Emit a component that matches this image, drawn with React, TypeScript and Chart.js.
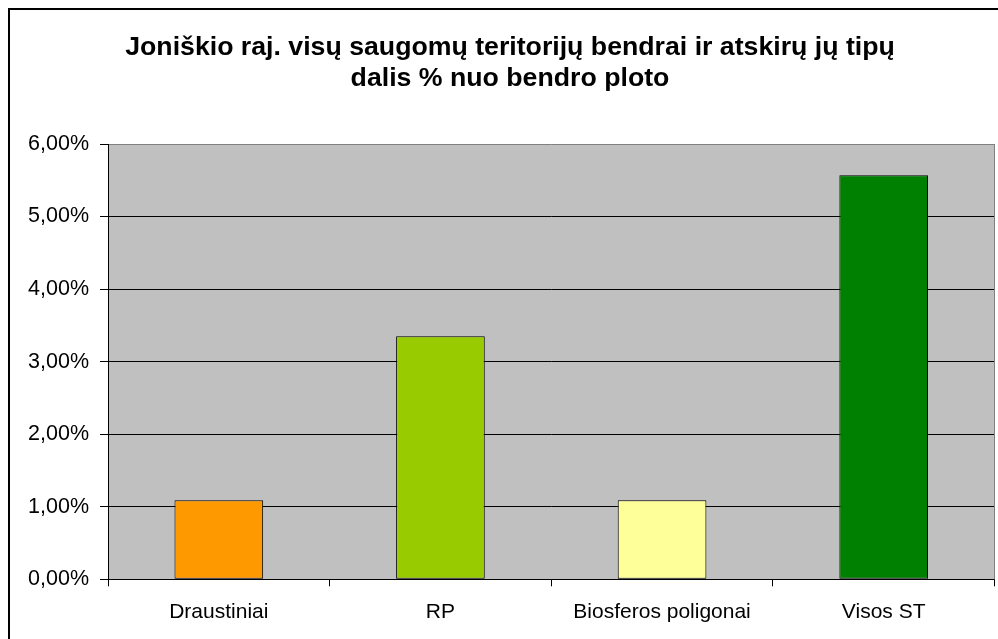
import React, { useEffect, useRef } from "react";
import { Chart, registerables } from "chart.js";

Chart.register(...registerables);

const titleLines = [
  "Joniškio raj. visų saugomų teritorijų bendrai ir atskirų jų tipų",
  "dalis % nuo bendro ploto",
];
const categories = ["Draustiniai", "RP", "Biosferos poligonai", "Visos ST"];
const values = [1.09, 3.35, 1.09, 5.57];
const barColors = ["#FF9900", "#99CC00", "#FFFF99", "#008000"];
const yMin = 0;
const yMax = 6;
const yStep = 1;

const CANVAS_W = 1000;
const CANVAS_H = 636;

const plotBg = {
  id: "plotBg",
  beforeDraw(chart: any) {
    const { ctx, chartArea } = chart;
    const { left, top, right, bottom } = chartArea;
    ctx.save();
    ctx.fillStyle = "#C0C0C0";
    ctx.fillRect(left, top, right - left, bottom - top);
    ctx.restore();
  },
  beforeDatasetsDraw(chart: any) {
    const { ctx, chartArea } = chart;
    const { top, right, bottom } = chartArea;
    ctx.save();
    ctx.strokeStyle = "#808080";
    ctx.lineWidth = 1;
    ctx.beginPath();
    const x = Math.round(right) - 0.5;
    ctx.moveTo(x, top);
    ctx.lineTo(x, bottom);
    ctx.stroke();
    ctx.restore();
  },
};

export default function App() {
  const ref = useRef<HTMLCanvasElement | null>(null);

  useEffect(() => {
    if (!ref.current) return;
    const chart = new Chart(ref.current, {
      type: "bar",
      data: {
        labels: categories,
        datasets: [
          {
            data: values,
            backgroundColor: barColors,
            borderColor: "#000000",
            borderWidth: 1,
            borderSkipped: false,
            barPercentage: 0.4,
            categoryPercentage: 1,
          },
        ],
      },
      options: {
        responsive: false,
        animation: false,
        devicePixelRatio: 1,
        layout: { padding: { left: 15.5, right: 15.5, top: 0, bottom: 0 } },
        plugins: {
          legend: { display: false },
          tooltip: { enabled: false },
          title: {
            display: true,
            text: titleLines,
            color: "#000000",
            font: { family: "'Liberation Sans', Arial, sans-serif", size: 26.7, weight: "bold", lineHeight: 31 / 26.7 },
            padding: { top: 22.5, bottom: 49.5 },
          },
        },
        scales: {
          x: {
            offset: true,
            grid: {
              offset: true,
              drawOnChartArea: false,
              drawTicks: true,
              tickLength: 7,
              color: "#000000",
            },
            border: { display: true, color: "#000000", width: 1 },
            ticks: {
              color: "#000000",
              padding: 13,
              font: { family: "'Liberation Sans', Arial, sans-serif", size: 21 },
            },
            afterFit(scale: any) {
              scale.height = 66.7;
            },
          },
          y: {
            min: yMin,
            max: yMax,
            grid: {
              color: (ctx: any) => (ctx.tick && ctx.tick.value === yMax ? "#808080" : "#000000"),
              tickColor: "#000000",
              tickLength: 8,
              lineWidth: 1,
            },
            border: { display: true, color: "#000000", width: 1 },
            ticks: {
              stepSize: yStep,
              color: "#000000",
              padding: 11,
              font: { family: "'Liberation Sans', Arial, sans-serif", size: 21.5 },
              callback: (v: any) => Number(v).toFixed(2).replace(".", ",") + "%",
            },
            afterFit(scale: any) {
              scale.width = 82.5;
            },
          },
        },
      },
      plugins: [plotBg],
    });
    return () => chart.destroy();
  }, []);

  return (
    <div style={{ position: "fixed", left: 0, top: 0, width: 998, height: 639, overflow: "hidden", background: "#ffffff" }}>
      <div
        style={{
          position: "absolute",
          left: 8,
          top: 8,
          width: CANVAS_W + 4,
          height: CANVAS_H + 4,
          border: "2px solid #000000",
          boxSizing: "border-box",
          background: "#ffffff",
        }}
      >
        <canvas ref={ref} width={CANVAS_W} height={CANVAS_H} style={{ display: "block", width: CANVAS_W, height: CANVAS_H }} />
      </div>
    </div>
  );
}
